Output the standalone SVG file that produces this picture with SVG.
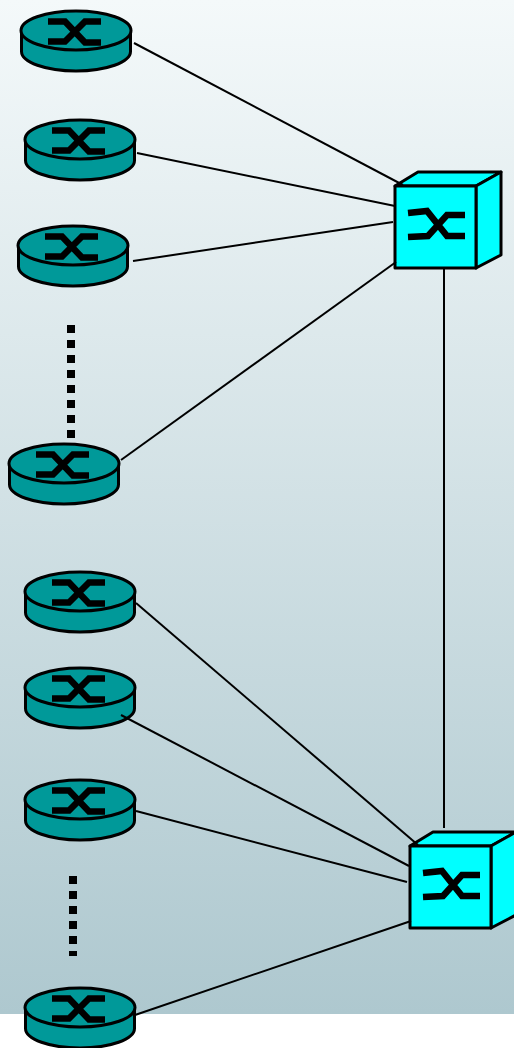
<svg xmlns="http://www.w3.org/2000/svg" xmlns:xlink="http://www.w3.org/1999/xlink" width="514" height="1048" viewBox="0 0 514 1048">
<style>
.body{fill:#009999;stroke:#000;stroke-width:3}
.glyph{fill:none;stroke:#000;stroke-width:6.500}
.box{fill:#00ffff;stroke:#000;stroke-width:3;stroke-linejoin:round}
.link{stroke:#000;stroke-width:2;fill:none}
.dots{stroke:#000;stroke-width:8;stroke-dasharray:8 7;fill:none}
</style>
<defs>
<linearGradient id="bg" x1="0" y1="0" x2="0" y2="1">
<stop offset="0" stop-color="#f4f9fa"/><stop offset="1" stop-color="#aec8cf"/>
</linearGradient>
<g id="router">
<path class="body" d="M-54.500 0V21A54.500 19.500 0 0 0 54.500 21V0Z"/>
<ellipse class="body" cx="0" cy="0" rx="55" ry="19.500"/>
<path class="glyph" d="M-28-9H-11L9 12H25M-28 11H-11L9-9H25"/>
</g>
<g id="switch">
<path class="box" d="M0 14L23 0H106L81 14Z"/>
<path class="box" d="M81 14L106 0V83L81 96Z"/>
<rect class="box" x="0" y="14" width="81" height="82"/>
<path class="glyph" d="M13 41L32 39L52 64H70M13 65L33 64L52 43H70"/>
</g>
</defs>
<rect x="0" y="0" width="514" height="1014" fill="url(#bg)"/>
<g id="router-1"><use xlink:href="#router" x="76" y="30.500"/></g>
<g id="router-2"><use xlink:href="#router" x="80" y="139.500"/></g>
<g id="router-3"><use xlink:href="#router" x="73" y="245.500"/></g>
<g id="router-4"><use xlink:href="#router" x="64" y="463.500"/></g>
<g id="router-5"><use xlink:href="#router" x="80" y="591.500"/></g>
<g id="router-6"><use xlink:href="#router" x="80" y="687.500"/></g>
<g id="router-7"><use xlink:href="#router" x="80" y="799.500"/></g>
<g id="router-8"><use xlink:href="#router" x="80" y="1007.500"/></g>
<g id="switch-1"><use xlink:href="#switch" x="395" y="172"/></g>
<g id="switch-2"><use xlink:href="#switch" x="410" y="832"/></g>
<g id="connectors">
<path class="link" d="M134 43L403 185"/>
<path class="link" d="M137 153L395 206"/>
<path class="link" d="M133 261L393 222"/>
<path class="link" d="M121 460L396 262"/>
<path class="link" d="M444 269V828"/>
<path class="link" d="M136 603L418 845"/>
<path class="link" d="M121 715L409 866"/>
<path class="link" d="M136 811L407 882"/>
<path class="link" d="M135 1015L411 921"/>
</g>
<path class="dots" d="M71 325V438"/>
<path class="dots" d="M73 876V956"/>
</svg>
